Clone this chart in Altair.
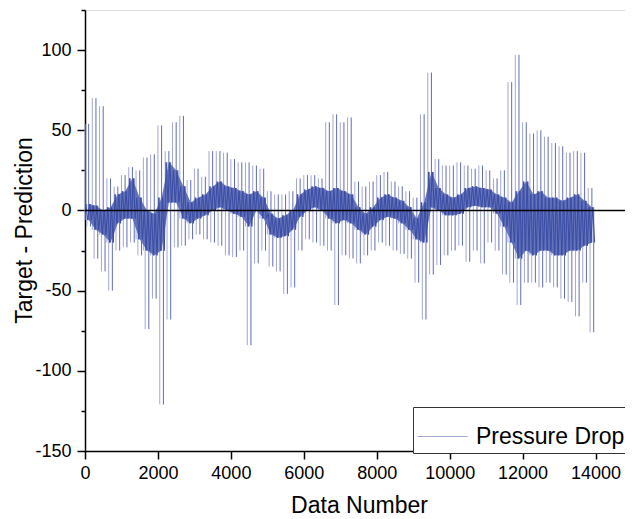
import altair as alt
import pandas as pd

# Bin positions (Data Number) and envelope values
bins = [0, 200, 400, 600, 800, 1000, 1200, 1400, 1600, 1800,
        2000, 2200, 2400, 2600, 2800, 3000, 3200, 3400, 3600, 3800,
        4000, 4200, 4400, 4600, 4800, 5000, 5200, 5400, 5600, 5800,
        6000, 6200, 6400, 6600, 6800, 7000, 7200, 7400, 7600, 7800,
        8000, 8200, 8400, 8600, 8800, 9000, 9200, 9400, 9600, 9800,
        10000, 10200, 10400, 10600, 10800, 11000, 11200, 11400, 11600, 11800,
        12000, 12200, 12400, 12600, 12800, 13000, 13200, 13400, 13600, 13800]

# outer spike maxima / minima
spike_hi = [54, 70, 65, 20, 15, 22, 27, 25, 33, 35,
            53, 37, 55, 59, 19, 26, 21, 37, 37, 36,
            32, 30, 30, 28, 26, 12, 10, 10, 12, 20,
            22, 22, 20, 55, 60, 55, 58, 18, 15, 18,
            22, 24, 18, 15, 12, 8, 60, 86, 32, 28,
            28, 30, 28, 26, 28, 25, 20, 25, 80, 97,
            55, 48, 50, 46, 42, 40, 36, 37, 36, 14]
spike_lo = [-10, -30, -38, -50, -25, -23, -20, -28, -74, -55,
            -121, -68, -23, -22, -18, -15, -18, -20, -22, -28,
            -29, -25, -84, -33, -25, -35, -38, -52, -48, -25,
            -18, -20, -22, -25, -59, -28, -30, -33, -28, -25,
            -20, -22, -25, -27, -30, -45, -68, -40, -34, -28,
            -25, -22, -32, -25, -33, -20, -25, -40, -45, -59,
            -45, -45, -48, -45, -48, -55, -57, -66, -45, -76]
# dense core band
core_hi = [4, 3, 0, 2, 10, 12, 20, 8, 0, -2,
           8, 30, 25, 15, 5, 8, 10, 15, 18, 15,
           14, 12, 10, 12, 8, -2, -5, -3, 0, 10,
           13, 15, 14, 12, 14, 12, 10, 2, -2, 2,
           8, 10, 8, 6, 2, -5, 5, 24, 14, 10,
           8, 10, 14, 15, 14, 13, 10, 8, 5, 12,
           18, 10, 12, 8, 8, 6, 8, 10, 6, 2]
core_lo = [-6, -12, -15, -20, -8, -5, -5, -18, -25, -28,
           -25, 5, 5, -5, -8, -5, -3, 0, 2, 0,
           -2, -4, -10, 0, -5, -15, -17, -16, -12, -4,
           0, 2, 0, -5, -8, -6, -8, -12, -15, -10,
           -6, -4, -5, -8, -12, -18, -20, 2, 0, -3,
           -3, -2, 2, 3, 2, 2, -2, -10, -20, -30,
           -25, -28, -25, -25, -28, -28, -25, -25, -22, -20]

x_ticks = [0, 1000, 2000, 3000, 4000, 5000, 6000, 7000, 8000,
           9000, 10000, 11000, 12000, 13000, 14000, 15000]
y_ticks = [-150, -125, -100, -75, -50, -25, 0, 25, 50, 75, 100, 125]
series_name = "Pressure Drop"

# vertical spikes from the core band out to the maxima / minima
light_rows, dark_rows = [], []
for b, h, l, ch, cl in zip(bins, spike_hi, spike_lo, core_hi, core_lo):
    light_rows.append({"x": b, "y": cl, "y2": h, "series": series_name})
    light_rows.append({"x": b + 50, "y": ch, "y2": l, "series": series_name})
    dark_rows.append({"x": b + 100, "y": cl, "y2": h})
    dark_rows.append({"x": b + 150, "y": ch, "y2": l})
light = pd.DataFrame(light_rows)
dark = pd.DataFrame(dark_rows)

# core zigzag inside the dense band
cx, cy = [], []
for b, ch, cl in zip(bins, core_hi, core_lo):
    cx += [b + 25, b + 75, b + 125, b + 175]
    cy += [ch, cl, ch, cl]
core_line = pd.DataFrame({"x": cx, "y": cy})
core = pd.DataFrame({"x": [b + 100 for b in bins], "lo": core_lo, "hi": core_hi})
zero = pd.DataFrame({"y": [0]})

FONT = "Liberation Sans"

xscale = alt.Scale(domain=[0, 15000], range=[0, 547], nice=False, zero=False)
yscale = alt.Scale(domain=[-150, 125], nice=False, zero=False)

xaxis = alt.Axis(
    values=x_ticks,
    labelExpr="datum.value % 2000 === 0 ? '' + datum.value : ''",
    tickSize={"condition": {"test": "datum.value % 2000 === 0", "value": 8}, "value": 4},
    labelOverlap=False, labelFlush=False, grid=False,
    title="Data Number", titleFontSize=23, titleFontWeight="normal", titleFont=FONT,
    titleX=274, titleY=61, titleAlign="center", titleBaseline="alphabetic",
    labelFontSize=18, labelFont=FONT, labelPadding=5,
    domainColor="black", domainWidth=1.5, tickColor="black", tickWidth=1.5,
    labelColor="black", titleColor="black",
)
yaxis = alt.Axis(
    values=y_ticks,
    labelExpr="datum.value % 50 === 0 ? '' + datum.value : ''",
    tickSize={"condition": {"test": "datum.value % 50 === 0", "value": 8}, "value": 4},
    labelOverlap=False, labelFlush=False, grid=False,
    title="Target - Prediction", titleFontSize=23, titleFontWeight="normal", titleFont=FONT,
    titleAngle=-90, titleX=-54, titleY=220, titleAlign="center", titleBaseline="alphabetic",
    labelFontSize=18, labelFont=FONT, labelPadding=6,
    domainColor="black", domainWidth=1.5, tickColor="black", tickWidth=1.5,
    labelColor="black", titleColor="black",
)

light_layer = alt.Chart(light).mark_rule(strokeWidth=1).encode(
    x=alt.X("x:Q", scale=xscale, axis=xaxis),
    y=alt.Y("y:Q", scale=yscale, axis=yaxis),
    y2="y2:Q",
    color=alt.Color("series:N", scale=alt.Scale(range=["#a4a6d4"]),
                    legend=alt.Legend(title=None, orient="none", legendX=328, legendY=397,
                                      fillColor="white", strokeColor="#333", padding=4,
                                      symbolType="stroke", symbolSize=2500,
                                      symbolStrokeWidth=1, labelFontSize=23,
                                      labelFont=FONT, labelColor="black", labelOffset=8)),
)

dark_layer = alt.Chart(dark).mark_rule(strokeWidth=1, color="#4254a8", opacity=0.85).encode(
    x=alt.X("x:Q", scale=xscale),
    y=alt.Y("y:Q", scale=yscale),
    y2="y2:Q",
)

core_layer = alt.Chart(core).mark_area(color="#5667b4", opacity=0.9).encode(
    x=alt.X("x:Q", scale=xscale),
    y=alt.Y("lo:Q", scale=yscale),
    y2="hi:Q",
)

core_line_layer = alt.Chart(core_line).mark_line(strokeWidth=1, color="#3a4ca4").encode(
    x=alt.X("x:Q", scale=xscale),
    y=alt.Y("y:Q", scale=yscale),
)

zero_layer = alt.Chart(zero).mark_rule(color="black", strokeWidth=1.5).encode(
    y=alt.Y("y:Q", scale=yscale)
)

chart = alt.layer(light_layer, dark_layer, core_layer, core_line_layer, zero_layer).properties(
    width=540, height=441,
    autosize=alt.AutoSizeParams(type="none"),
    padding={"left": 77, "top": 2, "right": 0, "bottom": 68},
).configure_view(stroke="black", strokeWidth=1.5).configure(background="white")

chart.save("out.html", embed_options={"renderer": "svg", "actions": False})
